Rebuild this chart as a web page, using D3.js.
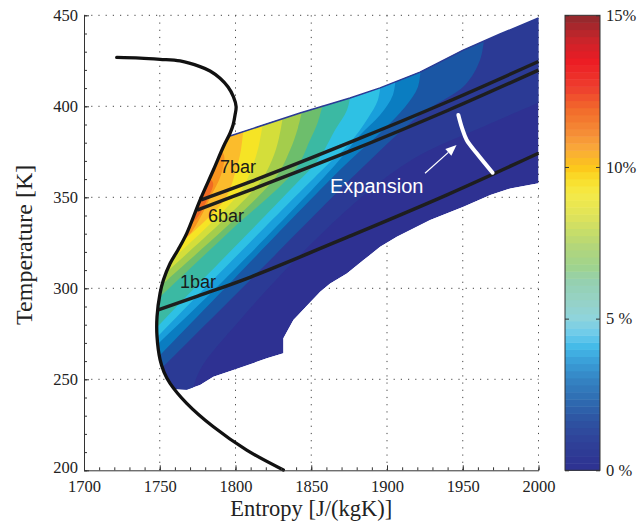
<!DOCTYPE html>
<html>
<head>
<meta charset="utf-8">
<script src="https://cdn.jsdelivr.net/npm/d3@7"></script>
<style>
  body { margin: 0; background: #fff; }
  svg { display: block; }
</style>
</head>
<body>
<div id="chart"></div>
<script>
// axis ticks
const xTicks = [1700, 1750, 1800, 1850, 1900, 1950, 2000];
const yTicks = [200, 250, 300, 350, 400, 450];

// saturation curve [s, T] (top-left end to bottom end)
const satCurve = [
  [1721.6, 426.9], [1737.0, 426.5], [1750.2, 425.8], [1763.4, 424.9], [1776.6, 421.8],
  [1783.2, 419.4], [1789.8, 415.4], [1795.1, 410.6], [1798.6, 405.3], [1800.4, 399.8],
  [1799.7, 395.2], [1798.4, 389.7], [1796.4, 385.2], [1792.0, 377.8], [1785.4, 365.0],
  [1776.6, 348.5], [1767.8, 330.2], [1762.1, 321.2], [1756.8, 313.6], [1752.4, 304.5],
  [1750.2, 297.2], [1748.2, 284.4], [1748.2, 273.4], [1750.2, 260.8], [1752.8, 254.0],
  [1756.8, 247.8], [1767.8, 236.8], [1785.4, 223.9], [1807.4, 211.1], [1831.6, 200.2]
];

// isobars
const isobar1 = [[1749, 288.1], [1775, 295.7], [1810, 306.2], [1875, 328.5], [1940, 351.5], [2000, 374.2]];
const isobar6 = [[1774.6, 343.0], [1810, 354.1], [1875, 375.2], [1940, 397.7], [2000, 419.9]];
const isobar7 = [[1777.3, 348.6], [1810, 358.6], [1875, 380.0], [1940, 402.5], [2000, 424.6]];
const isobarLabels = [
  { text: "7bar", s: 1789.8, T: 363.4 },
  { text: "6bar", s: 1781.8, T: 336.4 },
  { text: "1bar", s: 1763.4, T: 300.2 }
];

// expansion path and arrow
const expansion = [[1947.1, 395.2], [1949.5, 388.1], [1952.6, 381.5], [1959.2, 374.2], [1969.7, 363.5]];
const arrow = [[1925.1, 363.2], [1945.9, 378.7]];
const expansionLabel = { text: "Expansion", s: 1862.4, T: 352.5 };

// outline of the coloured region
const topEdge = [
  [1796.4, 383.7], [1842.6, 396.3], [1875.6, 404.6], [1895.4, 410.1],
  [1921.8, 418.8], [1950.3, 430.9], [1974.6, 439.7], [2000, 448.5]
];
const lowerEdge = [
  [2000, 357.7], [1981.4, 354.9], [1968.2, 351.3], [1950.5, 344.8], [1928.5, 337.5],
  [1906.5, 328.3], [1895.5, 322.8], [1884.5, 315.5], [1873.5, 308.2], [1862.5, 302.7],
  [1855.9, 298.1], [1838.2, 282.6], [1831.6, 272.5], [1831.6, 264.3], [1820.7, 261.5],
  [1798.6, 255.1], [1785.4, 251.4], [1776.6, 246.9], [1767.8, 244.2], [1760.1, 244.7]
];

// contour levels (%) and fill colours of the bands between them
const levels = [1, 2, 3, 4, 5, 6, 7, 8, 9, 10, 11, 12, 13];
const bandColors = [
  "#2e3192", "#2b3a95", "#1a56a4", "#0a7dc1", "#199fdb", "#2ec1e4", "#3bb9a3",
  "#6dbe6c", "#a4cd4c", "#d4de3a", "#f6e425", "#fbbc2c", "#f7941f", "#f06b23"
];
// one contour line per level [s, T]
const contourLines = [
  [[2004.3, 403.5], [1961.4, 388.1], [1921.8, 373.2], [1888.8, 354.0], [1842.6, 318.3], [1803.0, 282.6], [1776.6, 255.2], [1770.0, 238.7]],
  [[1964.0, 436.4], [1961.4, 425.4], [1951.5, 411.7], [1921.8, 395.2], [1885.5, 367.7], [1816.2, 310.0], [1752.8, 257.4], [1743.6, 249.7]],
  [[1922.4, 422.7], [1920.4, 410.6], [1911.9, 399.6], [1895.4, 385.3], [1872.3, 367.7], [1798.3, 304.6], [1750.2, 263.4], [1740.3, 255.2]],
  [[1905.9, 417.2], [1903.9, 406.2], [1895.4, 395.2], [1882.2, 384.2], [1865.7, 367.7], [1787.8, 300.7], [1748.8, 269.4], [1737.0, 259.5]],
  [[1896.0, 413.3], [1894.0, 403.5], [1887.5, 393.6], [1874.3, 378.7], [1855.8, 363.9], [1776.6, 297.4], [1748.2, 273.2], [1737.0, 263.9]],
  [[1876.2, 407.9], [1873.6, 398.0], [1865.7, 387.0], [1854.4, 370.5], [1836.0, 354.0], [1765.3, 293.6], [1748.2, 278.7], [1737.0, 269.4]],
  [[1858.4, 403.5], [1854.4, 391.4], [1849.2, 381.5], [1839.3, 365.0], [1796.4, 331.5], [1750.8, 295.8], [1740.3, 287.6]],
  [[1845.2, 401.8], [1841.2, 388.1], [1836.0, 376.0], [1826.1, 360.6], [1752.8, 302.9], [1742.2, 294.7]],
  [[1832.0, 398.0], [1828.7, 382.6], [1824.1, 370.5], [1814.8, 356.8], [1756.1, 310.0], [1744.9, 301.3]],
  [[1818.8, 394.6], [1815.5, 378.7], [1811.5, 367.7], [1803.0, 352.9], [1760.1, 317.1], [1748.8, 307.8]],
  [[1805.6, 391.4], [1803.6, 376.0], [1800.3, 365.0], [1793.1, 349.1], [1764.0, 324.8], [1753.5, 316.0]],
  [[1786.5, 378.7], [1792.4, 373.2], [1790.4, 362.2], [1783.2, 349.6], [1776.6, 338.6], [1768.6, 328.7], [1760.1, 325.4]],
  [[1779.9, 362.2], [1785.2, 357.9], [1781.2, 348.5], [1774.6, 338.6], [1767.4, 333.1]]
];

// colorbar
const cbStops = [0, 0.3, 1.0, 1.7, 2.3, 3.0, 3.6, 4.1, 4.5, 5.0, 5.6, 6.3, 6.7, 7.4, 7.8, 8.4, 9.1, 9.6, 10.0, 10.6, 11.2, 11.9, 12.6, 13.5, 14.2, 15];
const cbColors = ["#2e3192", "#2e3592", "#2f4399", "#2e55a3", "#2e6bb1", "#3583c3", "#3a9fd8", "#45bbe8", "#6ccbeb", "#8fd4dc", "#96d2c6",
  "#95d0ad", "#9fd38e", "#b4d679", "#c4dc6b", "#e0e35a", "#f4ea48", "#f9df2b", "#fcc71a", "#f9a93a", "#f58a35", "#f26b2b",
  "#ee3f2e", "#ec1c24", "#c9242a", "#8e2a2e"];
const cbTicks = [0, 5, 10, 15];
const cbLabels = ["0 %", "5 %", "10%", "15%"];

const margin = { top: 15.3, right: 102.5, bottom: 53.7, left: 84 },
  width = 641 - margin.left - margin.right,
  height = 524 - margin.top - margin.bottom;

const svg = d3
  .select("#chart")
  .append("svg")
  .attr("width", 641)
  .attr("height", 524)
  .append("g")
  .attr("transform", `translate(${margin.left},${margin.top})`);

const x = d3.scaleLinear().domain([1700, 2000]).range([0, width]);
const y = d3.scaleLinear().domain([200, 450]).range([height, 0]);
const bandColor = d3.scaleThreshold().domain(levels).range(bandColors);

const serif = "'Liberation Serif', 'Times New Roman', serif";
const sans = "'Liberation Sans', Arial, sans-serif";

// dotted grid
svg.append("g").selectAll("line").data(xTicks.slice(1)).join("line")
  .attr("x1", (d) => x(d)).attr("x2", (d) => x(d))
  .attr("y1", 0).attr("y2", height)
  .attr("stroke", "#444").attr("stroke-dasharray", "1.2,6");
svg.append("g").selectAll("line").data(yTicks.slice(1)).join("line")
  .attr("x1", 0).attr("x2", width)
  .attr("y1", (d) => y(d)).attr("y2", (d) => y(d))
  .attr("stroke", "#444").attr("stroke-dasharray", "1.2,6");

// clip for the coloured region: top edge, lower edge, back up along the saturation curve
const satPart = satCurve.filter((d) => d[1] > 245 && d[1] < topEdge[0][1]).reverse();
const region = topEdge.concat(lowerEdge, satPart);
const straight = d3.line().x((d) => x(d[0])).y((d) => y(d[1]));
const smooth = d3.line().x((d) => x(d[0])).y((d) => y(d[1])).curve(d3.curveCatmullRom.alpha(0.5));

svg.append("defs").append("clipPath").attr("id", "region")
  .append("path").attr("d", straight(region) + "Z");

const fills = svg.append("g").attr("clip-path", "url(#region)");
fills.append("path").attr("d", straight(region) + "Z").attr("fill", bandColor(0));

// each level fills everything on the upper-left side of its contour line
contourLines.forEach((pts, i) => {
  const first = pts[0], last = pts[pts.length - 1];
  const d = smooth(pts) +
    `L${x(1680)},${y(last[1])}L${x(1680)},${y(470)}L${x(first[0])},${y(470)}Z`;
  fills.append("path").attr("d", d).attr("fill", bandColor(levels[i]));
});

// thin dark rim along the upper edge
svg.append("path").attr("d", straight(topEdge))
  .attr("fill", "none").attr("stroke", "#2b3a95").attr("stroke-width", 1.5);

// isobars
[isobar1, isobar6, isobar7].forEach((p) => {
  svg.append("path").attr("d", smooth(p))
    .attr("fill", "none").attr("stroke", "#1e1e1e").attr("stroke-width", 3.5);
});

// saturation curve
svg.append("path").attr("d", smooth(satCurve))
  .attr("fill", "none").attr("stroke", "#111").attr("stroke-width", 3.3)
  .attr("stroke-linecap", "round");

svg.append("g").selectAll("text").data(isobarLabels).join("text")
  .attr("x", (d) => x(d.s)).attr("y", (d) => y(d.T))
  .attr("font-family", sans).attr("font-size", 18).attr("fill", "#1a1a1a")
  .text((d) => d.text);

// expansion line, arrow and label
svg.append("path").attr("d", smooth(expansion))
  .attr("fill", "none").attr("stroke", "#fff").attr("stroke-width", 4)
  .attr("stroke-linecap", "round");

const ax0 = x(arrow[0][0]), ay0 = y(arrow[0][1]);
const ax1 = x(arrow[1][0]), ay1 = y(arrow[1][1]);
const ang = Math.atan2(ay1 - ay0, ax1 - ax0);
const headL = 11, headW = 4.5;
const bx = ax1 - headL * Math.cos(ang), by = ay1 - headL * Math.sin(ang);
svg.append("line")
  .attr("x1", ax0).attr("y1", ay0).attr("x2", bx).attr("y2", by)
  .attr("stroke", "#fff").attr("stroke-width", 1.2);
svg.append("path")
  .attr("d", `M${ax1},${ay1}L${bx - headW * Math.sin(ang)},${by + headW * Math.cos(ang)}` +
    `L${bx + headW * Math.sin(ang)},${by - headW * Math.cos(ang)}Z`)
  .attr("fill", "#fff");

svg.append("text")
  .attr("x", x(expansionLabel.s)).attr("y", y(expansionLabel.T))
  .attr("font-family", sans).attr("font-size", 20).attr("fill", "#fff")
  .text(expansionLabel.text);

// axes: minor ticks, then major ticks with labels (ticks point inward)
const xMinor = d3.range(1700, 2001, 10);
const yMinor = d3.range(200, 451, 10);

svg.append("g").attr("transform", `translate(0,${height})`)
  .call(d3.axisBottom(x).tickValues(xMinor).tickSize(-3).tickFormat(""))
  .call((g) => g.select(".domain").remove());
svg.append("g").call(d3.axisLeft(y).tickValues(yMinor).tickSize(-3).tickFormat(""))
  .call((g) => g.select(".domain").remove());

const xAxis = svg.append("g").attr("transform", `translate(0,${height})`)
  .call(d3.axisBottom(x).tickValues(xTicks).tickSizeInner(-5).tickSizeOuter(0).tickPadding(10).tickFormat(d3.format("d")));
const yAxis = svg.append("g")
  .call(d3.axisLeft(y).tickValues(yTicks).tickSizeInner(-5).tickSizeOuter(0).tickPadding(6).tickFormat(d3.format("d")));

[xAxis, yAxis].forEach((g) => {
  g.selectAll("text").attr("font-family", serif).attr("font-size", 16.5).attr("fill", "#222");
  g.selectAll("line").attr("stroke", "#333");
  g.select(".domain").attr("stroke", "#333");
});
svg.selectAll(".tick line").attr("stroke", "#333");
// lowest y label sits just above the first x label; lift it a touch
yAxis.selectAll(".tick text").filter((d) => d === yTicks[0]).attr("dy", "0.15em");

// axis titles
svg.append("text")
  .attr("x", width / 2).attr("y", height + 46)
  .attr("text-anchor", "middle")
  .attr("font-family", serif).attr("font-size", 22.5).attr("fill", "#222")
  .text("Entropy [J/(kgK)]");
svg.append("text")
  .attr("transform", "rotate(-90)")
  .attr("x", -height / 2 - 2).attr("y", -52)
  .attr("text-anchor", "middle")
  .attr("font-family", serif).attr("font-size", 24).attr("fill", "#222")
  .text("Temperature [K]");

// colorbar
const cbX = 481, cbW = 35;
const cbY = d3.scaleLinear().domain([0, 15]).range([height, 0]);
const cbColor = d3.scaleLinear().domain(cbStops).range(cbColors);
const nSteps = 64;
const cb = svg.append("g").attr("transform", `translate(${cbX},0)`);
cb.selectAll("rect").data(d3.range(nSteps)).join("rect")
  .attr("x", 0).attr("width", cbW)
  .attr("y", (i) => cbY((i + 1) * 15 / nSteps))
  .attr("height", (i) => cbY(i * 15 / nSteps) - cbY((i + 1) * 15 / nSteps) + 0.5)
  .attr("fill", (i) => cbColor((i + 0.5) * 15 / nSteps));
cb.append("rect").attr("width", cbW).attr("height", height)
  .attr("fill", "none").attr("stroke", "#333");

const cbRight = cb.append("g").attr("transform", `translate(${cbW},0)`)
  .call(d3.axisRight(cbY).tickValues(cbTicks).tickSizeInner(-4).tickSizeOuter(0).tickPadding(6)
    .tickFormat((d) => cbLabels[cbTicks.indexOf(d)]));
const cbLeft = cb.append("g")
  .call(d3.axisLeft(cbY).tickValues(cbTicks).tickSizeInner(-4).tickSizeOuter(0).tickFormat(""));
[cbRight, cbLeft].forEach((g) => {
  g.select(".domain").remove();
  g.selectAll("line").attr("stroke", "#333");
  g.selectAll("text").attr("font-family", serif).attr("font-size", 16.5).attr("fill", "#222");
});
</script>
</body>
</html>
